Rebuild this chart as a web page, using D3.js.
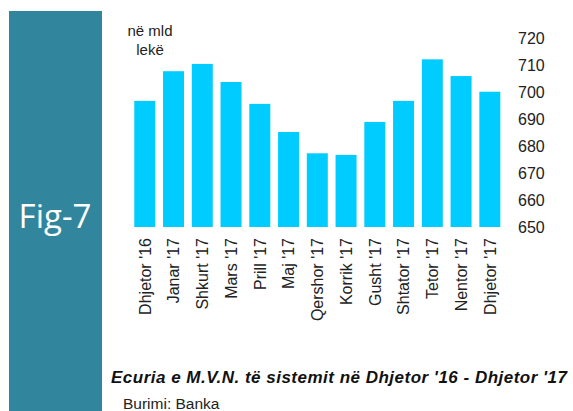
<!DOCTYPE html>
<html><head><meta charset="utf-8">
<script src="https://cdn.jsdelivr.net/npm/d3@7"></script>
<style>body{margin:0;background:#fff}svg{display:block}</style>
</head><body>
<script>
const categories = ["Dhjetor '16","Janar '17","Shkurt '17","Mars '17","Prill '17","Maj '17","Qershor '17","Korrik '17","Gusht '17","Shtator '17","Tetor '17","Nentor '17","Dhjetor '17"];
const values = [696.7, 707.7, 710.4, 703.7, 695.6, 685.2, 677.3, 676.7, 688.9, 696.7, 712.1, 705.9, 700.1];
const yTicks = [650, 660, 670, 680, 690, 700, 710, 720];
const unitLines = ["në mld", "lekë"];
const figLabel = "Fig-7";
const title = "Ecuria e M.V.N. të sistemit në Dhjetor '16  - Dhjetor '17";
const source = "Burimi: Banka";

const W = 573, H = 411;
const svg = d3.select("body").append("svg").attr("width", W).attr("height", H);
const font = "'Liberation Sans', Arial, sans-serif";

// side panel
svg.append("rect").attr("x", 9).attr("y", 11).attr("width", 93).attr("height", H - 11).attr("fill", "#31859C");
svg.append("text").attr("x", 55).attr("y", 228).attr("text-anchor", "middle")
  .attr("font-family", "'Open Sans', sans-serif").attr("font-size", 33).attr("fill", "#fff").text(figLabel);

const x = d3.scaleBand().domain(categories).range([130.4, 504.2]).paddingInner(0.27).paddingOuter(0.135);
const y = d3.scaleLinear().domain([650, 720]).range([227, 38]);

svg.append("g").selectAll("rect").data(values).join("rect")
  .attr("x", (d, i) => x(categories[i])).attr("width", x.bandwidth())
  .attr("y", d => y(d)).attr("height", d => y(650) - y(d))
  .attr("fill", "#00CCFF");

// right axis
const ay = svg.append("g").attr("transform", "translate(512,0)")
  .call(d3.axisRight(y).tickValues(yTicks).tickSize(0).tickPadding(6));
ay.select(".domain").remove();
ay.selectAll("text").attr("font-family", font).attr("font-size", 16).attr("fill", "#222").attr("dy", "0.36em");

// bottom axis rotated
const ax = svg.append("g").attr("transform", "translate(0,236)")
  .call(d3.axisBottom(x).tickSize(0).tickPadding(0));
ax.select(".domain").remove();
ax.selectAll("text").attr("font-family", font).attr("font-size", 16).attr("fill", "#222")
  .attr("transform", "rotate(-90)").attr("text-anchor", "end").attr("x", -2).attr("y", 0).attr("dy", "0.36em");

// unit label
svg.append("text").attr("text-anchor", "middle").attr("font-family", font).attr("font-size", 15).attr("fill", "#222")
  .selectAll("tspan").data(unitLines).join("tspan").attr("x", 150).attr("y", (d, i) => 36 + i * 19).text(d => d);

// title
svg.append("text").attr("x", 111).attr("y", 382.5).attr("font-family", font).attr("font-size", 17)
  .attr("font-weight", "bold").attr("font-style", "italic").attr("fill", "#111")
  .attr("textLength", 456).attr("lengthAdjust", "spacing").text(title);

svg.append("text").attr("x", 123).attr("y", 409).attr("font-family", font).attr("font-size", 15.5).attr("fill", "#222").text(source);
</script>
</body></html>
